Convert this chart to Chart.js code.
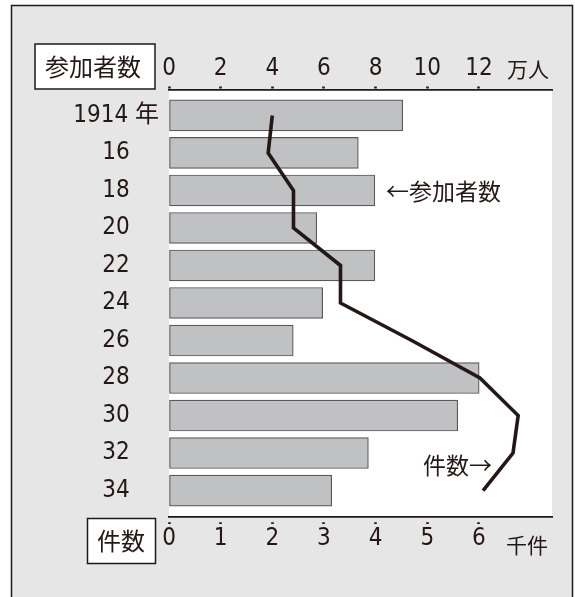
<!DOCTYPE html>
<html lang="ja">
<head>
<meta charset="utf-8">
<title>参加者数と件数</title>
<script src="https://cdn.jsdelivr.net/npm/chart.js@4.4.1/dist/chart.umd.min.js"></script>
<style>
  html, body { margin: 0; padding: 0; background: #fff; }
  canvas { display: block; }
</style>
</head>
<body>
<canvas id="chart" width="575" height="597"></canvas>
<script>
// 年（1914年から2年おき）
var years = ['1914 年', '16', '18', '20', '22', '24', '26', '28', '30', '32', '34'];
// 参加者数（万人）
var participants = [9.05, 7.33, 7.97, 5.72, 7.97, 5.95, 4.81, 12.01, 11.18, 7.72, 6.30];
// 件数（千件）
var cases = [2.0, 1.92, 2.41, 2.41, 3.32, 3.32, 4.7, 6.02, 6.76, 6.66, 6.08];
// 目盛り
var topTicks = [0, 2, 4, 6, 8, 10, 12];
var bottomTicks = [0, 1, 2, 3, 4, 5, 6];

var INK = '#231815';
var NUM_FONT = "'DejaVu Sans Condensed', 'Noto Sans CJK JP', sans-serif";
var JP_FONT = "'Noto Sans CJK JP', sans-serif";

var barData = participants.map(function(v, i) { return {x: v, y: i}; });
var lineData = cases.map(function(v, i) { return {x: v, y: i}; });

var framePlugin = {
    id: 'frame',
    beforeDraw: function(chart) {
        var ctx = chart.ctx;
        var a = chart.chartArea;
        ctx.save();
        ctx.fillStyle = '#fff';
        ctx.fillRect(0, 0, chart.width, chart.height);
        ctx.fillStyle = '#e6e6e6';
        ctx.fillRect(11, 5, 562, 600);
        ctx.strokeStyle = INK;
        ctx.lineWidth = 1.5;
        ctx.strokeRect(11.5, 5.5, 561, 600);
        // white plot area
        ctx.fillStyle = '#fff';
        ctx.fillRect(a.left, a.top, a.right - a.left, a.bottom - a.top);
        ctx.restore();
    },
    afterDraw: function(chart) {
        var ctx = chart.ctx;
        ctx.save();
        ctx.textBaseline = 'middle';

        // axis name boxes
        ctx.lineWidth = 1.5;
        ctx.strokeStyle = INK;
        ctx.fillStyle = '#fff';
        ctx.fillRect(35, 44, 120, 45);
        ctx.strokeRect(35, 44, 120, 45);
        ctx.fillRect(87.5, 518.5, 68, 45);
        ctx.strokeRect(87.5, 518.5, 68, 45);

        ctx.fillStyle = INK;
        ctx.textAlign = 'center';
        ctx.font = '24px ' + JP_FONT;
        ctx.fillText('参加者数', 93, 67);
        ctx.fillText('件数', 121, 541);

        // units
        ctx.textAlign = 'left';
        ctx.font = '21px ' + JP_FONT;
        ctx.fillText('万人', 507, 69);
        ctx.fillText('千件', 506, 545);

        // series notes
        ctx.font = '23px ' + JP_FONT;
        ctx.fillText('←参加者数', 386, 191);
        ctx.fillText('件数→', 423, 465);
        ctx.restore();
    }
};

new Chart(document.getElementById('chart'), {
    type: 'bar',
    data: {
        datasets: [{
            type: 'line',
            indexAxis: 'y',
            data: lineData,
            xAxisID: 'x2',
            yAxisID: 'y',
            borderColor: INK,
            borderWidth: 3.6,
            pointRadius: 0,
            fill: false,
            tension: 0,
            order: 0
        }, {
            type: 'bar',
            indexAxis: 'y',
            data: barData,
            xAxisID: 'x',
            yAxisID: 'y',
            backgroundColor: '#c0c1c3',
            borderColor: '#5a5858',
            borderWidth: 1.2,
            borderSkipped: false,
            barThickness: 31,
            order: 1
        }]
    },
    options: {
        indexAxis: 'y',
        responsive: false,
        animation: false,
        devicePixelRatio: 1,
        layout: { padding: { left: 0, right: 23, top: 0, bottom: 0 } },
        plugins: {
            legend: { display: false },
            tooltip: { enabled: false }
        },
        scales: {
            x: {
                type: 'linear',
                axis: 'x',
                position: 'top',
                offset: false,
                min: 0,
                max: 14.83,
                afterBuildTicks: function(s) {
                    s.ticks = topTicks.map(function(v) { return {value: v}; });
                },
                afterFit: function(s) { s.height = 90; },
                border: { display: true, color: INK, width: 1.8 },
                grid: {
                    offset: false,
                    drawOnChartArea: false,
                    drawTicks: true,
                    tickLength: 9,
                    tickWidth: 2.6,
                    tickColor: INK,
                    tickBorderDash: [0, 5.5, 2, 20]
                },
                ticks: {
                    color: INK,
                    padding: -2,
                    maxRotation: 0,
                    font: { family: NUM_FONT, size: 24 }
                }
            },
            x2: {
                type: 'linear',
                axis: 'x',
                position: 'bottom',
                offset: false,
                min: 0,
                max: 7.415,
                afterBuildTicks: function(s) {
                    s.ticks = bottomTicks.map(function(v) { return {value: v}; });
                },
                afterFit: function(s) { s.height = 80; },
                border: { display: true, color: INK, width: 1.8 },
                grid: {
                    offset: false,
                    drawOnChartArea: false,
                    drawTicks: true,
                    tickLength: 7,
                    tickWidth: 2.6,
                    tickColor: INK,
                    tickBorderDash: [0, 4.5, 2, 20]
                },
                ticks: {
                    color: INK,
                    padding: 0,
                    maxRotation: 0,
                    font: { family: NUM_FONT, size: 24 }
                }
            },
            y: {
                type: 'linear',
                reverse: true,
                offset: false,
                min: -0.678,
                max: 10.705,
                afterBuildTicks: function(s) {
                    s.ticks = years.map(function(t, i) { return {value: i}; });
                },
                afterFit: function(s) { s.width = 169; },
                border: { display: false },
                grid: { display: false, offset: false, drawTicks: false, tickLength: 0 },
                ticks: {
                    color: INK,
                    crossAlign: 'center',
                    padding: 10,
                    autoSkip: false,
                    font: { family: NUM_FONT, size: 24 },
                    callback: function(v) { return years[v]; }
                }
            }
        }
    },
    plugins: [framePlugin]
});
</script>
</body>
</html>
